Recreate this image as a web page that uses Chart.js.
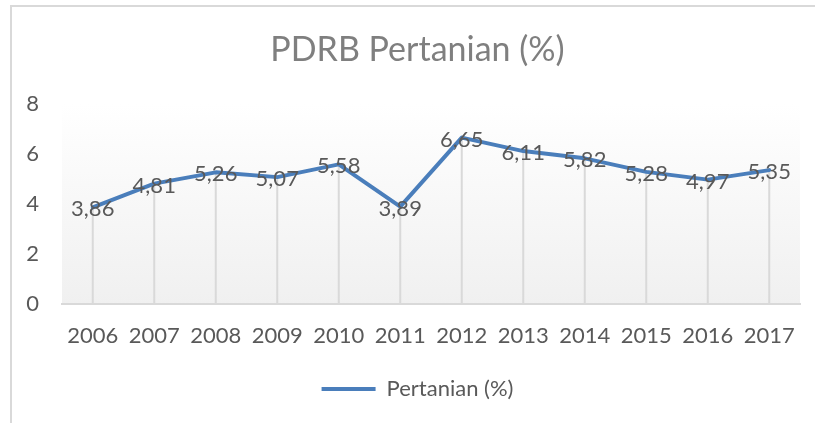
<!DOCTYPE html>
<html>
<head>
<meta charset="utf-8">
<script src="https://cdn.jsdelivr.net/npm/chart.js@4.4.0/dist/chart.umd.min.js"></script>
<style>
  html, body { margin: 0; padding: 0; background: #fff; overflow: hidden; }
  #wrap { position: relative; width: 815px; height: 423px; overflow: hidden; }
  #frame {
    position: absolute; left: 10px; top: 5px; width: 900px; height: 500px;
    border-left: 2px solid #d9d9d9; border-top: 2px solid #d9d9d9;
  }
  #chart1 { position: absolute; left: 0; top: 0; }
</style>
</head>
<body>
<div id="wrap">
  <div id="frame"></div>
  <canvas id="chart1" width="835" height="423"></canvas>
</div>
<script>
/** PDRB Pertanian **/
const years = ['2006', '2007', '2008', '2009', '2010', '2011', '2012', '2013', '2014', '2015', '2016', '2017'];
const pertanian = [3.86, 4.81, 5.26, 5.07, 5.58, 3.89, 6.65, 6.11, 5.82, 5.28, 4.97, 5.35];
const yTicks = [0, 2, 4, 6, 8];

const lineColor = '#4a7ebb';
const textColor = '#595959';
const fontName = 'Lato';

// gradient behind the plot area
const plotBg = {
  id: 'plotBg',
  beforeDraw(chart) {
    const { ctx, chartArea: a } = chart;
    const g = ctx.createLinearGradient(0, a.top, 0, a.bottom);
    g.addColorStop(0, '#ffffff');
    g.addColorStop(1, '#f0f0f0');
    ctx.save();
    ctx.fillStyle = g;
    ctx.fillRect(a.left, a.top, a.right - a.left, a.bottom - a.top);
    ctx.restore();
  }
};

// drop lines from each point down to the axis
const dropLines = {
  id: 'dropLines',
  beforeDatasetsDraw(chart) {
    const { ctx, chartArea } = chart;
    const meta = chart.getDatasetMeta(0);
    ctx.save();
    ctx.strokeStyle = '#d9d9d9';
    ctx.lineWidth = 2;
    meta.data.forEach(function(p) {
      ctx.beginPath();
      ctx.moveTo(p.x, p.y);
      ctx.lineTo(p.x, chartArea.bottom);
      ctx.stroke();
    });
    ctx.restore();
  }
};

// value labels centred on the points
const valueLabels = {
  id: 'valueLabels',
  afterDatasetsDraw(chart) {
    const { ctx } = chart;
    const meta = chart.getDatasetMeta(0);
    const vals = chart.data.datasets[0].data;
    ctx.save();
    ctx.font = '22px ' + fontName;
    ctx.fillStyle = textColor;
    ctx.textAlign = 'center';
    ctx.textBaseline = 'middle';
    meta.data.forEach(function(p, i) {
      ctx.fillText(vals[i].toFixed(2).replace('.', ','), p.x, p.y + 2);
    });
    ctx.restore();
  }
};

const data1 = {
  labels: years,
  datasets: [{
    label: 'Pertanian (%)',
    data: pertanian,
    borderColor: lineColor,
    backgroundColor: lineColor,
    borderWidth: 4,
    borderCapStyle: 'round',
    borderJoinStyle: 'round',
    tension: 0,
    pointRadius: 0,
    pointHoverRadius: 0,
    fill: false
  }]
};

const config1 = {
  type: 'line',
  data: data1,
  plugins: [plotBg, dropLines, valueLabels],
  options: {
    responsive: false,
    animation: false,
    layout: { padding: { left: 0, right: 0, top: 0, bottom: 13 } },
    plugins: {
      tooltip: { enabled: false },
      title: {
        display: true,
        text: 'PDRB Pertanian (%)',
        color: '#7f7f7f',
        font: { family: fontName, size: 34, weight: 'normal' },
        padding: { top: 30, bottom: 33 }
      },
      legend: {
        position: 'bottom',
        labels: {
          color: textColor,
          font: { family: fontName, size: 22 },
          usePointStyle: true,
          pointStyle: 'line',
          pointStyleWidth: 54,
          padding: 4
        }
      }
    },
    scales: {
      x: {
        offset: true,
        grid: { display: false, drawTicks: false },
        border: { display: true, color: '#d9d9d9', width: 2 },
        ticks: {
          color: textColor,
          font: { family: fontName, size: 22 },
          padding: 19,
          maxRotation: 0
        },
        afterFit: function(scale) { scale.height = 70; }
      },
      y: {
        min: 0,
        max: 8,
        grid: { display: false, drawTicks: false },
        border: { display: false },
        afterBuildTicks: function(scale) {
          scale.ticks = yTicks.map(function(v) { return { value: v }; });
        },
        ticks: {
          color: textColor,
          font: { family: fontName, size: 22 },
          padding: 23
        },
        afterFit: function(scale) { scale.width = 62; }
      },
      // empty axis that only keeps room on the right side
      yr: {
        position: 'right',
        grid: { display: false, drawTicks: false },
        border: { display: false },
        ticks: { display: false },
        afterFit: function(scale) { scale.width = 35; }
      }
    }
  }
};

const chart1 = new Chart(
  document.getElementById('chart1'),
  config1
);
</script>
</body>
</html>
